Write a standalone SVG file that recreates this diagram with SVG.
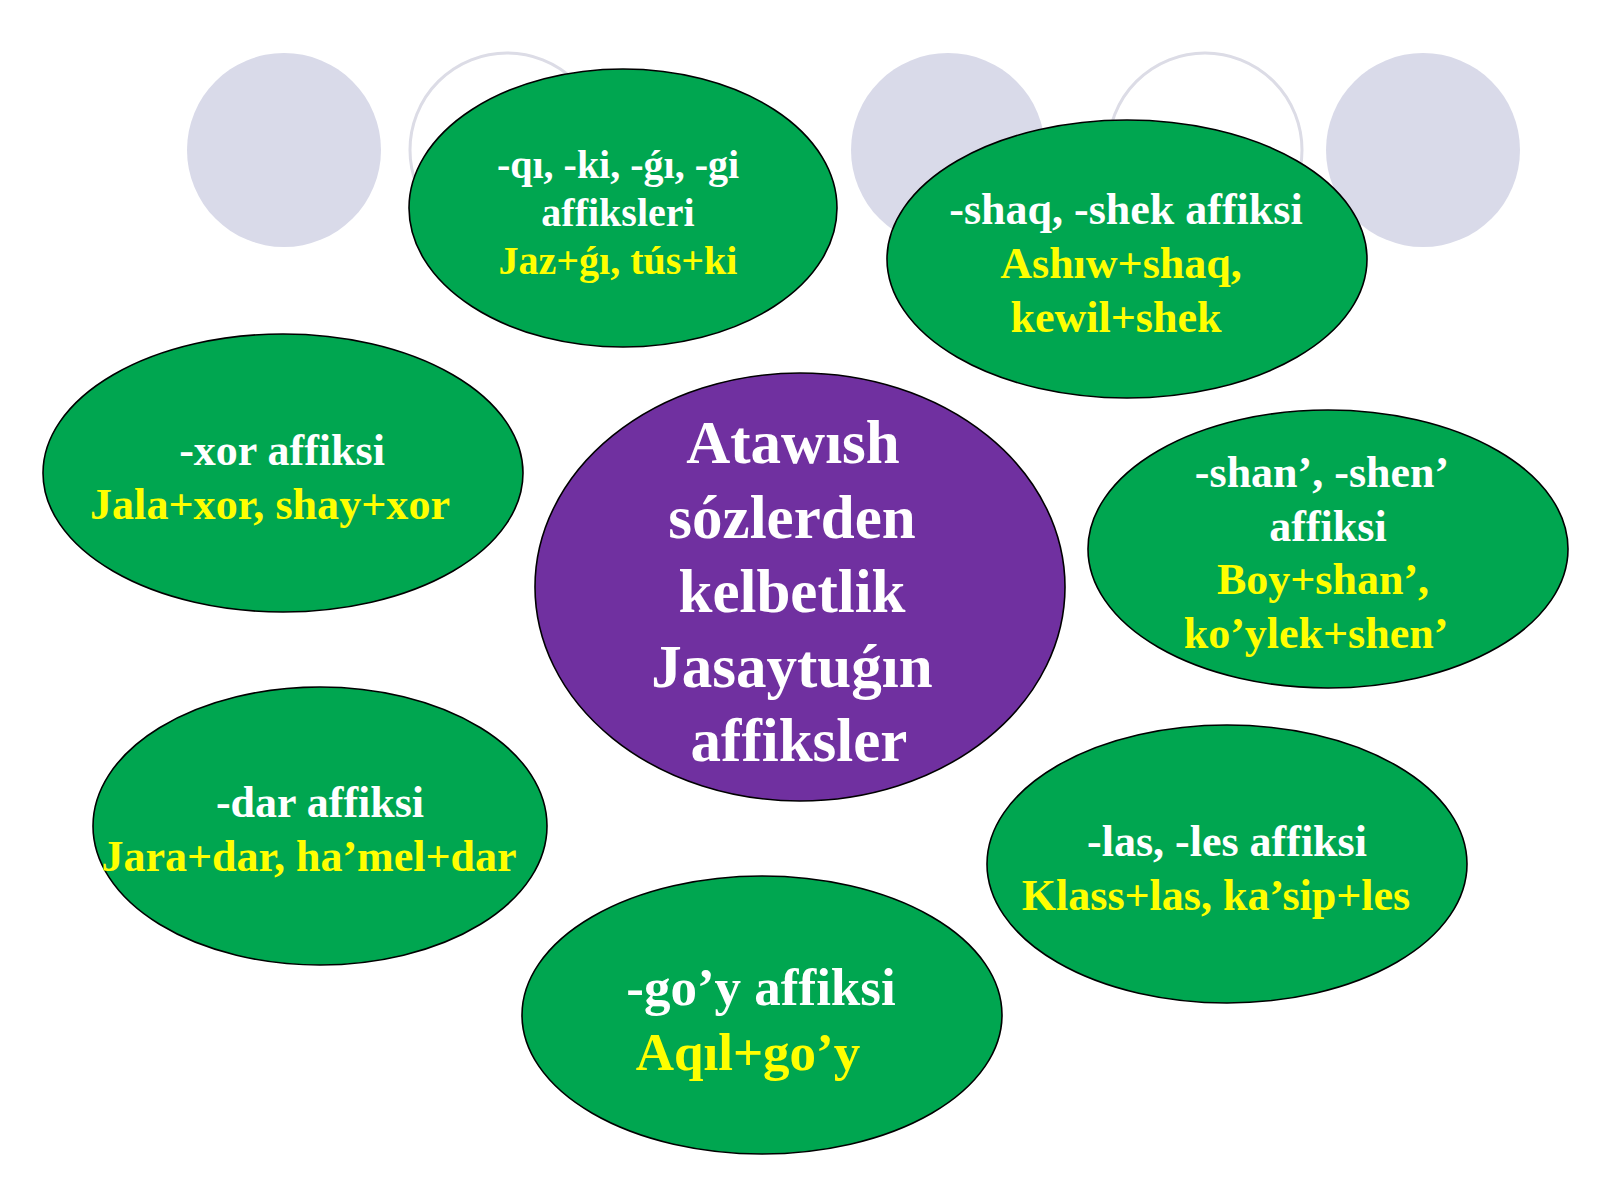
<svg xmlns="http://www.w3.org/2000/svg" width="1600" height="1200" viewBox="0 0 1600 1200">
<style>
.bgc{fill:#d9dae9;stroke:none}
.ring{fill:none;stroke:#dcdce6;stroke-width:3}
.g{fill:#00a650;stroke:#000;stroke-width:1.6}
.p{fill:#7030a0;stroke:#000;stroke-width:1.6}
text{font-family:"Liberation Serif","Times New Roman",serif;font-weight:bold;text-anchor:middle}
.w{fill:#ffffff}
.y{fill:#ffff00}
.s40{font-size:40px}
.s44{font-size:44px}
.s53{font-size:53px}
.s61{font-size:61px}
</style>
<rect width="1600" height="1200" fill="#ffffff"/>
<g id="background">
<circle class="bgc" cx="284" cy="150" r="97"/>
<circle class="ring" cx="507" cy="150" r="97"/>
<circle class="bgc" cx="948" cy="150" r="97"/>
<circle class="ring" cx="1205" cy="150" r="97"/>
<circle class="bgc" cx="1423" cy="150" r="97"/>
</g>
<g id="connectors"></g>
<g id="node-qi">
<ellipse class="g" cx="623" cy="208" rx="214" ry="139"/>
<text class="w s40" x="618" y="178">-qı, -ki, -ǵı, -gi</text>
<text class="w s40" x="618" y="226">affiksleri</text>
<text class="y s40" x="618" y="274">Jaz+ǵı, tús+ki</text>
</g>
<g id="node-shaq">
<ellipse class="g" cx="1127" cy="259" rx="240" ry="139"/>
<text class="w s44" x="1126" y="224">-shaq, -shek affiksi</text>
<text class="y s44" x="1121" y="278">Ashıw+shaq,</text>
<text class="y s44" x="1116" y="332">kewil+shek</text>
</g>
<g id="node-xor">
<ellipse class="g" cx="283" cy="473" rx="240" ry="139"/>
<text class="w s44" x="282" y="465">-xor affiksi</text>
<text class="y s44" x="270" y="519" textLength="360">Jala+xor, shay+xor</text>
</g>
<g id="node-center">
<ellipse class="p" cx="800" cy="587" rx="265" ry="214"/>
<text class="w s61" x="793" y="463">Atawısh</text>
<text class="w s61" x="792" y="538">sózlerden</text>
<text class="w s61" x="792" y="612">kelbetlik</text>
<text class="w s61" x="792" y="687">Jasaytuǵın</text>
<text class="w s61" x="799" y="761">affiksler</text>
</g>
<g id="node-shan">
<ellipse class="g" cx="1328" cy="549" rx="240" ry="139"/>
<text class="w s44" x="1322" y="487">-shan’, -shen’</text>
<text class="w s44" x="1328" y="541">affiksi</text>
<text class="y s44" x="1323" y="594">Boy+shan’,</text>
<text class="y s44" x="1316" y="648">ko’ylek+shen’</text>
</g>
<g id="node-dar">
<ellipse class="g" cx="320" cy="826" rx="227" ry="139"/>
<text class="w s44" x="320" y="817">-dar affiksi</text>
<text class="y s44" x="309" y="871">Jara+dar, ha’mel+dar</text>
</g>
<g id="node-las">
<ellipse class="g" cx="1227" cy="864" rx="240" ry="139"/>
<text class="w s44" x="1227" y="856">-las, -les affiksi</text>
<text class="y s44" x="1216" y="910">Klass+las, ka’sip+les</text>
</g>
<g id="node-goy">
<ellipse class="g" cx="762" cy="1015" rx="240" ry="139"/>
<text class="w s53" x="761" y="1005">-go’y affiksi</text>
<text class="y s53" x="748" y="1070">Aqıl+go’y</text>
</g>
</svg>
